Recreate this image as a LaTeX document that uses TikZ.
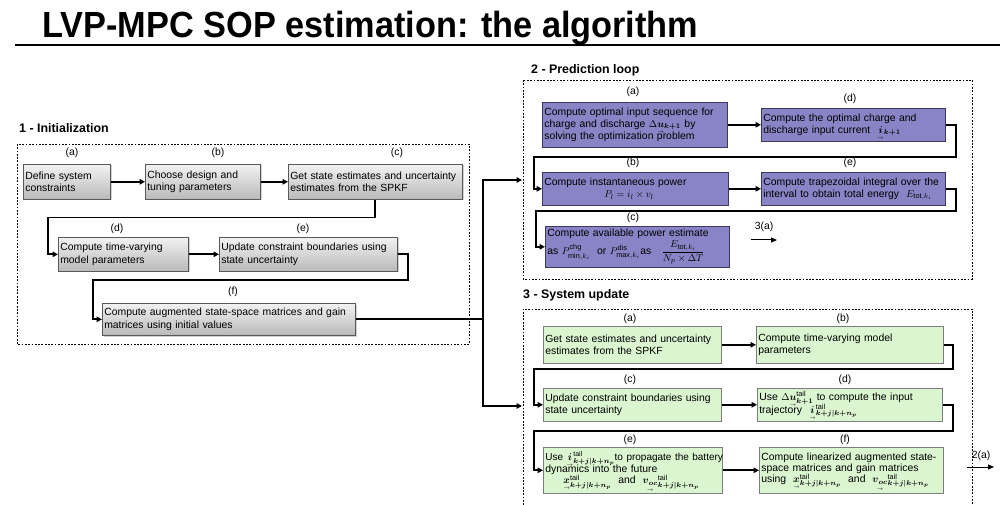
\documentclass[tikz,border=0pt]{standalone}
\usepackage{amsmath}
\usepackage{fontspec}
\setmainfont{Liberation Sans}
\usetikzlibrary{arrows.meta,calc,shadows}

% small arrow set under a vector symbol; its depth is hidden so that
% sub- and superscripts keep their usual places
\newcommand\ua[1]{{\smash[b]{\underset{\scriptscriptstyle\rightarrow}{#1}}}}
\newcommand\boxfont{\fontsize{10.4}{12.2}\selectfont\hyphenpenalty=10000 }
\newcommand\tl{\mathrm{tail}}
\newcommand\kj{\boldsymbol{k+j|k+n_p}}

\definecolor{predfill}{RGB}{136,132,198}
\definecolor{predline}{RGB}{60,58,90}
\definecolor{sysfill}{RGB}{218,245,208}
\definecolor{sysline}{RGB}{125,125,125}

\tikzset{
  frame/.style={draw, line width=0.8pt, dash pattern=on 1.8pt off 1.5pt},
  box/.style={anchor=north west, align=left, inner sep=2pt, font=\boxfont},
  sz/.style 2 args={text width=#1, minimum height=#2},
  graybox/.style={box, draw=black!65, line width=0.6pt, top color=gray!10, bottom color=gray!55,
    drop shadow={shadow xshift=1.2pt, shadow yshift=-1.2pt, fill=gray!60, opacity=0.6}},
  predbox/.style={box, draw=predline, line width=0.6pt, fill=predfill},
  sysbox/.style={box, draw=sysline, line width=0.6pt, fill=sysfill},
  tag/.style={font=\boxfont, inner sep=0pt},
  section/.style={font=\fontsize{12.4}{14}\bfseries\selectfont, inner sep=0pt, anchor=west},
  lnk/.style={line width=1.8pt},
  arr/.style={line width=1.8pt, -{Triangle[length=5.5pt,width=5.5pt]}},
}

\begin{document}
\begin{tikzpicture}[x=1pt,y=-1pt]
\useasboundingbox (0,0) rectangle (1007,505);

% heading
\node[anchor=base west, inner sep=0pt, yscale=1.06, font=\fontsize{34.3}{38}\bfseries\selectfont] (title) at (42,38)
  {LVP-MPC SOP estimation: the algorithm};
\draw[line width=2.4pt] (15,45) -- (1000,45);

% ---------- 1 - Initialization ----------
\node[section] (sec1) at (19,128) {1 - Initialization};
\draw[frame] (17,144) rectangle (469,344);

\node[graybox, sz={83pt}{35pt}]  (i-a) at (23,164)  {Define system\\constraints};
\node[graybox, sz={111pt}{35pt}] (i-b) at (145,164) {Choose design and\\tuning parameters};
\node[graybox, sz={170pt}{35pt}] (i-c) at (288,164) {Get state estimates and uncertainty\\estimates from the SPKF};
\node[graybox, sz={126pt}{34pt}] (i-d) at (58,237)  {Compute time-varying\\model parameters};
\node[graybox, sz={174pt}{34pt}] (i-e) at (219,237) {Update constraint boundaries using\\state uncertainty};
\node[graybox, sz={249pt}{32pt}] (i-f) at (102,303) {Compute augmented state-space matrices and gain\\matrices using initial values};

\node[tag] (t-ia) at (72,153)  {(a)};
\node[tag] (t-ib) at (218,153) {(b)};
\node[tag] (t-ic) at (397,153) {(c)};
\node[tag] (t-id) at (117,229) {(d)};
\node[tag] (t-ie) at (303,229) {(e)};
\node[tag] (t-if) at (233,292) {(f)};

\draw[arr] (i-a) -- (i-b);
\draw[arr] (i-b) -- (i-c);
\draw[arr] (i-c.south) -- ++(0,18) -| ([xshift=-10pt]i-d.west) -- (i-d.west);
\draw[arr] (i-d) -- (i-e);
\draw[arr] (i-e.east) -| ($(i-e.east)+(10,26)$) -| ([xshift=-9pt]i-f.west) -- (i-f.west);

% branch towards the prediction loop and the system update
\coordinate (pin) at (522,180);
\coordinate (sin) at (522,406);
\draw[lnk] (i-f.east) -- ++(127,0) coordinate (J);
\draw[arr] (J) |- (pin);
\draw[arr] (J) |- (sin);

% ---------- 2 - Prediction loop ----------
\node[section] (sec2) at (531,70) {2 - Prediction loop};
\draw[frame] (523,80) rectangle (972,279);

\node[predbox, sz={181pt}{45pt}] (p-a) at (542,102)
  {Compute optimal input sequence for\\charge and discharge $\Delta\ua{\boldsymbol{u}}_{\boldsymbol{k+1}}$ by\\solving the optimization problem};
\node[predbox, sz={180pt}{33pt}] (p-d) at (761,108)
  {Compute the optimal charge and\\discharge input current~~$\ua{\boldsymbol{i}}_{\boldsymbol{k+1}}$};
\node[predbox, sz={182pt}{33pt}] (p-b) at (542,172)
  {Compute instantaneous power\\\hspace*{60pt}$P_l = i_l \times v_l$};
\node[predbox, sz={180pt}{33pt}] (p-e) at (761,172)
  {Compute trapezoidal integral over the\\interval to obtain total energy~~$E_{\mathrm{tot},k_i}$};
\node[predbox, sz={180pt}{41pt}] (p-c) at (545,226)
  {Compute available power estimate\\[1pt]as $P^{\mathrm{chg}}_{\min,k_i}$~ or $P^{\mathrm{dis}}_{\max,k_i}$as\quad
   $\dfrac{E_{\mathrm{tot},k_i}}{N_p\times\Delta T}$};

\node[tag] (t-pa) at (633,92)  {(a)};
\node[tag] (t-pd) at (850,99)  {(d)};
\node[tag] (t-pb) at (633,163) {(b)};
\node[tag] (t-pe) at (850,163) {(e)};
\node[tag] (t-pc) at (633,218) {(c)};

\draw[arr] (p-a.east |- p-d.west) -- (p-d.west);
\draw[arr] (p-d.east) -| ($(p-d.east)+(10,32)$) -| ([xshift=-8pt]p-b.west) -- (p-b.west);
\draw[arr] (p-b) -- (p-e);
\draw[arr] (p-e.east) -| ($(p-e.east)+(10,22.5)$) -| ([xshift=-9pt]p-c.west) -- (p-c.west);

\node[tag] (n3) at (764,227) {3(a)};
\coordinate (n3s) at (751,240);
\coordinate (n3e) at (777,240);
\draw[line width=1pt, -{Triangle[length=6pt,width=5pt]}] (n3s) -- (n3e);

% ---------- 3 - System update ----------
\node[section] (sec3) at (523,295) {3 - System update};
\draw[frame] (523,505) -- (523,309) -- (972,309) -- (972,505);

\node[sysbox, sz={174pt}{37pt}] (s-a) at (543,326)
  {Get state estimates and uncertainty\\estimates from the SPKF};
\node[sysbox, sz={183pt}{37pt}] (s-b) at (756,326)
  {Compute time-varying model\\parameters};
\node[sysbox, sz={174pt}{33pt}] (s-c) at (543,388)
  {Update constraint boundaries using\\state uncertainty};
\node[sysbox, sz={181pt}{33pt}] (s-d) at (757,388)
  {Use $\Delta\ua{\boldsymbol{u}}^{\tl}_{\boldsymbol{k+1}}$ to compute the input\\[-2pt]trajectory~~$\ua{\boldsymbol{i}}^{\tl}_{\kj}$};
\node[sysbox, sz={175pt}{46pt}] (s-e) at (543,447)
  {\mbox{\fontsize{10}{12}\selectfont Use $\ua{\boldsymbol{i}}^{\tl}_{\kj}$to propagate the battery}\\[-0.5pt]dynamics into the future\\[-1pt]
   \hspace*{18pt}$\ua{\boldsymbol{x}}^{\tl}_{\kj}$~ and~ $\ua{\boldsymbol{v}_{\boldsymbol{oc}}}^{\tl}_{\kj}$};
\node[sysbox, sz={180pt}{46pt}] (s-f) at (759,447)
  {Compute linearized augmented state-\\[-1pt]space matrices and gain matrices\\[-1pt]
   using~~$\ua{\boldsymbol{x}}^{\tl}_{\kj}$~ and~ $\ua{\boldsymbol{v}_{\boldsymbol{oc}}}^{\tl}_{\kj}$};

\node[tag] (t-sa) at (630,319) {(a)};
\node[tag] (t-sb) at (843,319) {(b)};
\node[tag] (t-sc) at (630,380) {(c)};
\node[tag] (t-sd) at (845,380) {(d)};
\node[tag] (t-se) at (630,440) {(e)};
\node[tag] (t-sf) at (845,440) {(f)};

\draw[arr] (s-a) -- (s-b);
\draw[arr] (s-b.east) -| ($(s-b.east)+(9,24)$) -| ([xshift=-9pt]s-c.west) -- (s-c.west);
\draw[arr] (s-c) -- (s-d);
\draw[arr] (s-d.east) -| ($(s-d.east)+(10,26)$) -| ([xshift=-9pt]s-e.west) -- (s-e.west);
\draw[arr] (s-e) -- (s-f);

\node[tag] (n2) at (981,456) {2(a)};
\coordinate (n2s) at (967,467);
\coordinate (n2e) at (994,467);
\draw[line width=1pt, -{Triangle[length=6pt,width=5pt]}] (n2s) -- (n2e);

\end{tikzpicture}
\end{document}
